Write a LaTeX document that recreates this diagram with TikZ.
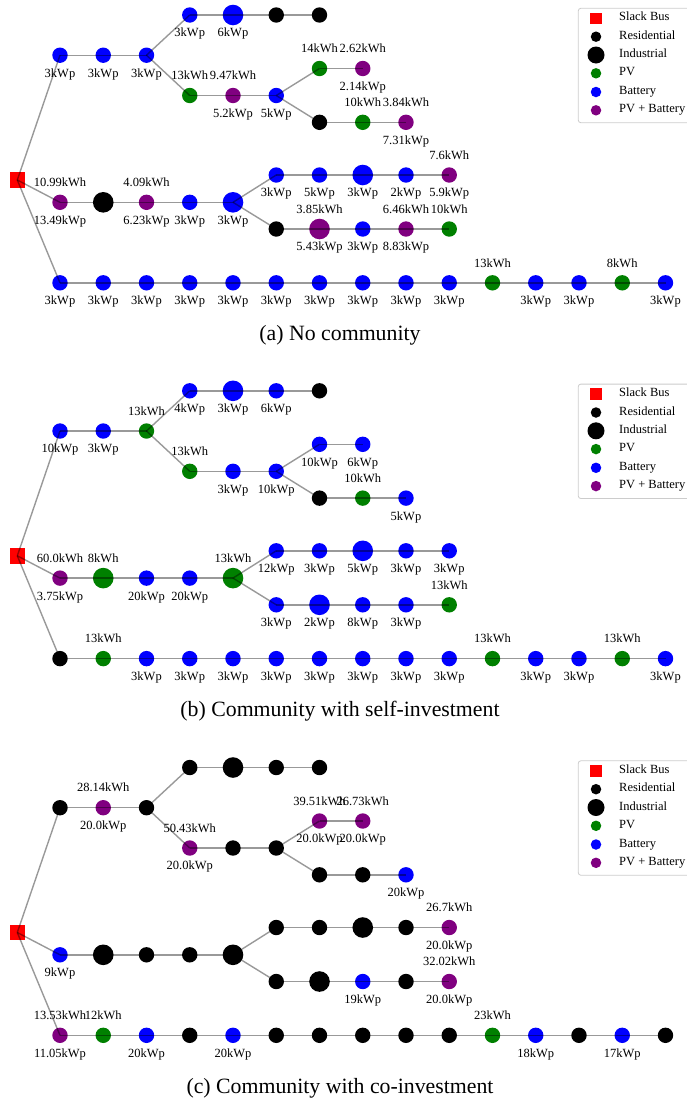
\documentclass[tikz,border=0pt]{standalone}
\usepackage{fontspec}
\setmainfont{Liberation Serif}
\definecolor{pvgreen}{rgb}{0,0.5,0}
\definecolor{pvpurple}{rgb}{0.5,0,0.5}
\definecolor{legedge}{gray}{0.8}
\newcommand\labfont{\fontsize{12.5}{14}\selectfont}
\newcommand\capfont{\fontsize{21.8}{24}\selectfont}
\tikzset{
  bus/.style={circle, inner sep=0pt, minimum size=15.4pt, draw=none},
  big/.style={minimum size=20.6pt},
  res/.style={bus, fill=black},
  pv/.style={bus, fill=pvgreen},
  bat/.style={bus, fill=blue},
  pvb/.style={bus, fill=pvpurple},
  slack/.style={rectangle, inner sep=0pt, minimum size=15.4pt, fill=red},
  lab/.style={font=\labfont, inner sep=0pt, text height=0.7em, text depth=0.2em},
  wp/.style={label={[lab,yshift=-19.4pt]center:#1}},
  wh/.style={label={[lab,yshift=18.3pt]center:#1}},
  edge/.style={draw=black, draw opacity=0.4, line width=1.4pt},
  legbox/.style={draw=legedge, fill=white, rounded corners=2.5pt, line width=0.8pt},
  legtext/.style={font=\labfont, anchor=west, inner sep=0pt, text height=0.7em, text depth=0.2em},
  captext/.style={font=\capfont, inner sep=0pt},
}
\begin{document}
\begin{tikzpicture}[x=1pt,y=-1pt]
\useasboundingbox (0,0) rectangle (686,1098);
% legends and captions
\foreach \p/\s/\c in {a/0/{(a) No community}, b/375.8/{(b) Community with self-investment}, c/752.5/{(c) Community with co-investment}}{
  \begin{scope}[yshift=-\s pt]
    \draw[legbox] (578.3,8.3) rectangle (692,122.7);
    \node[slack, minimum size=11.5pt] (\p leg1) at (596,18.3) {};
    \node[res, minimum size=10.5pt] (\p leg2) at (596,36.7) {};
    \node[res, minimum size=17pt] (\p leg3) at (596,55) {};
    \node[pv, minimum size=10.5pt] (\p leg4) at (596,73.3) {};
    \node[bat, minimum size=10.5pt] (\p leg5) at (596,92) {};
    \node[pvb, minimum size=10.5pt] (\p leg6) at (596,110.3) {};
    \node[legtext] (\p legt1) at (619,18.3) {Slack Bus};
    \node[legtext] (\p legt2) at (619,36.7) {Residential};
    \node[legtext] (\p legt3) at (619,55) {Industrial};
    \node[legtext] (\p legt4) at (619,73.3) {PV};
    \node[legtext] (\p legt5) at (619,92) {Battery};
    \node[legtext] (\p legt6) at (619,110.3) {PV + Battery};
    \node[captext] (\p cap) at (340,335.5) {\c};
    \node[slack] (\p S) at (17.3,180) {};
  \end{scope}
}
% ---------------- panel (a)
\begin{scope}
\node[bat, wp=3kWp] (aA1) at (60,55.2) {};
\node[bat, wp=3kWp] (aA2) at (103.25,55.2) {};
\node[bat, wp=3kWp] (aA3) at (146.5,55.2) {};
\node[bat, wp=3kWp] (aB1) at (189.75,15) {};
\node[bat, big, wp=6kWp] (aB2) at (233,15) {};
\node[res] (aB3) at (276.25,15) {};
\node[res] (aB4) at (319.5,15) {};
\node[pv, wh=13kWh] (aC1) at (189.75,95.5) {};
\node[pvb, wh=9.47kWh, wp=5.2kWp] (aC2) at (233,95.5) {};
\node[bat, wp=5kWp] (aC3) at (276.25,95.5) {};
\node[pv, wh=14kWh] (aD1) at (319.5,68.5) {};
\node[pvb, wh=2.62kWh, wp=2.14kWp] (aD2) at (362.75,68.5) {};
\node[res] (aE1) at (319.5,122.3) {};
\node[pv, wh=10kWh] (aE2) at (362.75,122.3) {};
\node[pvb, wh=3.84kWh, wp=7.31kWp] (aE3) at (406,122.3) {};
\node[pvb, wh=10.99kWh, wp=13.49kWp] (aF1) at (60,202.3) {};
\node[res, big] (aF2) at (103.25,202.3) {};
\node[pvb, wh=4.09kWh, wp=6.23kWp] (aF3) at (146.5,202.3) {};
\node[bat, wp=3kWp] (aF4) at (189.75,202.3) {};
\node[bat, big, wp=3kWp] (aF5) at (233,202.3) {};
\node[bat, wp=3kWp] (aG1) at (276.25,175) {};
\node[bat, wp=5kWp] (aG2) at (319.5,175) {};
\node[bat, big, wp=3kWp] (aG3) at (362.75,175) {};
\node[bat, wp=2kWp] (aG4) at (406,175) {};
\node[pvb, wh=7.6kWh, wp=5.9kWp] (aG5) at (449.25,175) {};
\node[res] (aH1) at (276.25,229) {};
\node[pvb, big, wh=3.85kWh, wp=5.43kWp] (aH2) at (319.5,229) {};
\node[bat, wp=3kWp] (aH3) at (362.75,229) {};
\node[pvb, wh=6.46kWh, wp=8.83kWp] (aH4) at (406,229) {};
\node[pv, wh=10kWh] (aH5) at (449.25,229) {};
\foreach \i in {1,...,10} \node[bat, wp=3kWp] (aK\i) at ({60+(\i-1)*43.25},282.8) {};
\node[pv, wh=13kWh] (aK11) at (492.5,282.8) {};
\node[bat, wp=3kWp] (aK12) at (535.75,282.8) {};
\node[bat, wp=3kWp] (aK13) at (579,282.8) {};
\node[pv, wh=8kWh] (aK14) at (622.25,282.8) {};
\node[bat, wp=3kWp] (aK15) at (665.5,282.8) {};
\end{scope}
% ---------------- panel (b)
\begin{scope}[yshift=-375.8pt]
\node[bat, wp=10kWp] (bA1) at (60,55.2) {};
\node[bat, wp=3kWp] (bA2) at (103.25,55.2) {};
\node[pv, wh=13kWh] (bA3) at (146.5,55.2) {};
\node[bat, wp=4kWp] (bB1) at (189.75,15) {};
\node[bat, big, wp=3kWp] (bB2) at (233,15) {};
\node[bat, wp=6kWp] (bB3) at (276.25,15) {};
\node[res] (bB4) at (319.5,15) {};
\node[pv, wh=13kWh] (bC1) at (189.75,95.5) {};
\node[bat, wp=3kWp] (bC2) at (233,95.5) {};
\node[bat, wp=10kWp] (bC3) at (276.25,95.5) {};
\node[bat, wp=10kWp] (bD1) at (319.5,68.5) {};
\node[bat, wp=6kWp] (bD2) at (362.75,68.5) {};
\node[res] (bE1) at (319.5,122.3) {};
\node[pv, wh=10kWh] (bE2) at (362.75,122.3) {};
\node[bat, wp=5kWp] (bE3) at (406,122.3) {};
\node[pvb, wh=60.0kWh, wp=3.75kWp] (bF1) at (60,202.3) {};
\node[pv, big, wh=8kWh] (bF2) at (103.25,202.3) {};
\node[bat, wp=20kWp] (bF3) at (146.5,202.3) {};
\node[bat, wp=20kWp] (bF4) at (189.75,202.3) {};
\node[pv, big, wh=13kWh] (bF5) at (233,202.3) {};
\node[bat, wp=12kWp] (bG1) at (276.25,175) {};
\node[bat, wp=3kWp] (bG2) at (319.5,175) {};
\node[bat, big, wp=5kWp] (bG3) at (362.75,175) {};
\node[bat, wp=3kWp] (bG4) at (406,175) {};
\node[bat, wp=3kWp] (bG5) at (449.25,175) {};
\node[bat, wp=3kWp] (bH1) at (276.25,229) {};
\node[bat, big, wp=2kWp] (bH2) at (319.5,229) {};
\node[bat, wp=8kWp] (bH3) at (362.75,229) {};
\node[bat, wp=3kWp] (bH4) at (406,229) {};
\node[pv, wh=13kWh] (bH5) at (449.25,229) {};
\node[res] (bK1) at (60,282.8) {};
\node[pv, wh=13kWh] (bK2) at (103.25,282.8) {};
\foreach \i in {3,...,10} \node[bat, wp=3kWp] (bK\i) at ({60+(\i-1)*43.25},282.8) {};
\node[pv, wh=13kWh] (bK11) at (492.5,282.8) {};
\node[bat, wp=3kWp] (bK12) at (535.75,282.8) {};
\node[bat, wp=3kWp] (bK13) at (579,282.8) {};
\node[pv, wh=13kWh] (bK14) at (622.25,282.8) {};
\node[bat, wp=3kWp] (bK15) at (665.5,282.8) {};
\end{scope}
% ---------------- panel (c)
\begin{scope}[yshift=-752.5pt]
\node[res] (cA1) at (60,55.2) {};
\node[pvb, wh=28.14kWh, wp=20.0kWp] (cA2) at (103.25,55.2) {};
\node[res] (cA3) at (146.5,55.2) {};
\node[res] (cB1) at (189.75,15) {};
\node[res, big] (cB2) at (233,15) {};
\node[res] (cB3) at (276.25,15) {};
\node[res] (cB4) at (319.5,15) {};
\node[pvb, wh=50.43kWh, wp=20.0kWp] (cC1) at (189.75,95.5) {};
\node[res] (cC2) at (233,95.5) {};
\node[res] (cC3) at (276.25,95.5) {};
\node[pvb, wh=39.51kWh, wp=20.0kWp] (cD1) at (319.5,68.5) {};
\node[pvb, wh=26.73kWh, wp=20.0kWp] (cD2) at (362.75,68.5) {};
\node[res] (cE1) at (319.5,122.3) {};
\node[res] (cE2) at (362.75,122.3) {};
\node[bat, wp=20kWp] (cE3) at (406,122.3) {};
\node[bat, wp=9kWp] (cF1) at (60,202.3) {};
\node[res, big] (cF2) at (103.25,202.3) {};
\node[res] (cF3) at (146.5,202.3) {};
\node[res] (cF4) at (189.75,202.3) {};
\node[res, big] (cF5) at (233,202.3) {};
\node[res] (cG1) at (276.25,175) {};
\node[res] (cG2) at (319.5,175) {};
\node[res, big] (cG3) at (362.75,175) {};
\node[res] (cG4) at (406,175) {};
\node[pvb, wh=26.7kWh, wp=20.0kWp] (cG5) at (449.25,175) {};
\node[res] (cH1) at (276.25,229) {};
\node[res, big] (cH2) at (319.5,229) {};
\node[bat, wp=19kWp] (cH3) at (362.75,229) {};
\node[res] (cH4) at (406,229) {};
\node[pvb, wh=32.02kWh, wp=20.0kWp] (cH5) at (449.25,229) {};
\node[pvb, wh=13.53kWh, wp=11.05kWp] (cK1) at (60,282.8) {};
\node[pv, wh=12kWh] (cK2) at (103.25,282.8) {};
\node[bat, wp=20kWp] (cK3) at (146.5,282.8) {};
\node[res] (cK4) at (189.75,282.8) {};
\node[bat, wp=20kWp] (cK5) at (233,282.8) {};
\foreach \i in {6,...,10} \node[res] (cK\i) at ({60+(\i-1)*43.25},282.8) {};
\node[pv, wh=23kWh] (cK11) at (492.5,282.8) {};
\node[bat, wp=18kWp] (cK12) at (535.75,282.8) {};
\node[res] (cK13) at (579,282.8) {};
\node[bat, wp=17kWp] (cK14) at (622.25,282.8) {};
\node[res] (cK15) at (665.5,282.8) {};
\end{scope}
% ---------------- edges (drawn over the buses, semi-transparent)
\foreach \p in {a,b,c}{
  \foreach \u/\v in {S/A1,A1/A2,A2/A3,A3/B1,B1/B2,B2/B3,B3/B4,A3/C1,C1/C2,C2/C3,C3/D1,D1/D2,C3/E1,E1/E2,E2/E3,S/F1,F1/F2,F2/F3,F3/F4,F4/F5,F5/G1,G1/G2,G2/G3,G3/G4,G4/G5,F5/H1,H1/H2,H2/H3,H3/H4,H4/H5,S/K1}
    \draw[edge] (\p\u.center) -- (\p\v.center);
  \foreach \i [count=\j from 2] in {1,...,14}
    \draw[edge] (\p K\i.center) -- (\p K\j.center);
}
\end{tikzpicture}
\end{document}
